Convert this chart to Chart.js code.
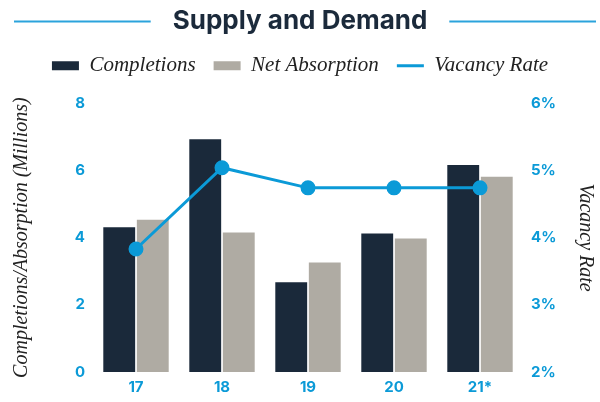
<!DOCTYPE html>
<html>
<head>
<meta charset="utf-8">
<script src="https://cdn.jsdelivr.net/npm/chart.js@4.4.0/dist/chart.umd.min.js"></script>
<style>
  html, body { margin: 0; padding: 0; background: #fff; }
  #wrap { width: 600px; height: 402px; }
</style>
</head>
<body>
<div id="wrap"><canvas id="chart" width="600" height="402"></canvas></div>
<script>
// datos
const years = ['17', '18', '19', '20', '21*'];
const completions = [4.31, 6.93, 2.67, 4.12, 6.16];
const netAbsorption = [4.53, 4.15, 3.26, 3.97, 5.81];
const vacancyRate = [3.83, 5.04, 4.74, 4.74, 4.74];

const navy = '#1a293a';
const gray = '#afaba3';
const blue = '#0b9ad7';
const serif = '"Liberation Serif", serif';
const sans = 'Inter, "Open Sans", sans-serif';

// líneas a los lados del título
const titleLines = {
    id: 'titleLines',
    afterDraw(chart) {
        const t = chart.titleBlock;
        const ctx = chart.ctx;
        ctx.save();
        ctx.font = 'bold 26px ' + sans;
        const w = ctx.measureText(t.options.text).width;
        const cx = (t.left + t.right) / 2;
        const cy = t.top + 6 + 15.6;
        ctx.strokeStyle = '#2ba3dc';
        ctx.lineWidth = 2;
        ctx.beginPath();
        ctx.moveTo(14, cy);
        ctx.lineTo(cx - w / 2 - 22, cy);
        ctx.moveTo(cx + w / 2 + 22, cy);
        ctx.lineTo(596, cy);
        ctx.stroke();
        ctx.restore();
    }
};

// un poco más de espacio debajo de la leyenda
const legendSpace = {
    id: 'legendSpace',
    beforeInit(chart) {
        const fit = chart.legend.fit;
        chart.legend.fit = function() {
            fit.bind(chart.legend)();
            this.height += 17;
        };
    }
};

const ctx = document.getElementById('chart').getContext('2d');
const chart = new Chart(ctx, {
    data: {
        labels: years,
        datasets: [{
            type: 'line',
            label: 'Vacancy Rate',
            data: vacancyRate,
            yAxisID: 'y1',
            borderColor: blue,
            backgroundColor: blue,
            borderWidth: 3,
            pointRadius: 6,
            pointHoverRadius: 6,
            tension: 0,
            order: 0
        }, {
            type: 'bar',
            label: 'Completions',
            data: completions,
            yAxisID: 'y',
            backgroundColor: navy,
            categoryPercentage: 0.78,
            barPercentage: 0.95,
            order: 1
        }, {
            type: 'bar',
            label: 'Net Absorption',
            data: netAbsorption,
            yAxisID: 'y',
            backgroundColor: gray,
            categoryPercentage: 0.78,
            barPercentage: 0.95,
            order: 1
        }]
    },
    options: {
        responsive: false,
        animation: false,
        layout: { padding: 0 },
        plugins: {
            title: {
                display: true,
                text: 'Supply and Demand',
                color: '#1b2a3b',
                font: { family: sans, size: 26, weight: 'bold' },
                padding: { top: 6, bottom: 0 }
            },
            legend: {
                display: true,
                labels: {
                    color: '#222',
                    font: { family: serif, size: 21, style: 'italic' },
                    usePointStyle: true,
                    pointStyleWidth: 27,
                    boxHeight: 9,
                    padding: 18,
                    sort: (a, b) => {
                        const ord = ['Completions', 'Net Absorption', 'Vacancy Rate'];
                        return ord.indexOf(a.text) - ord.indexOf(b.text);
                    },
                    generateLabels(chart) {
                        const items = Chart.defaults.plugins.legend.labels.generateLabels(chart);
                        items.forEach(it => {
                            if (it.text === 'Vacancy Rate') {
                                it.pointStyle = 'line';
                                it.strokeStyle = blue;
                                it.lineWidth = 3;
                            } else {
                                it.pointStyle = 'rect';
                                it.lineWidth = 0;
                            }
                        });
                        return items;
                    }
                }
            },
            tooltip: { enabled: false }
        },
        scales: {
            x: {
                grid: { display: false, drawTicks: false },
                border: { display: false },
                ticks: {
                    color: blue,
                    font: { family: sans, size: 15, weight: 'bold' },
                    padding: 6
                },
                afterFit(scale) { scale.height = 30; }
            },
            y: {
                position: 'left',
                min: 0,
                max: 8,
                grid: { display: false, drawTicks: false },
                border: { display: false },
                ticks: {
                    stepSize: 2,
                    color: blue,
                    font: { family: sans, size: 15, weight: 'bold' },
                    padding: 8
                },
                title: {
                    display: true,
                    text: 'Completions/Absorption (Millions)',
                    color: '#222',
                    font: { family: serif, size: 20, style: 'italic' },
                    padding: { top: 10 }
                },
                afterFit(scale) { scale.width = 93; }
            },
            y1: {
                position: 'right',
                min: 2,
                max: 6,
                grid: { display: false, drawTicks: false },
                border: { display: false },
                ticks: {
                    stepSize: 1,
                    color: blue,
                    font: { family: sans, size: 15, weight: 'bold' },
                    padding: 8,
                    callback: v => v + '%'
                },
                title: {
                    display: true,
                    text: 'Vacancy Rate',
                    color: '#222',
                    font: { family: serif, size: 20, style: 'italic' },
                    padding: { top: 3 }
                },
                afterFit(scale) { scale.width = 77; }
            }
        }
    },
    plugins: [titleLines, legendSpace]
});
</script>
</body>
</html>
